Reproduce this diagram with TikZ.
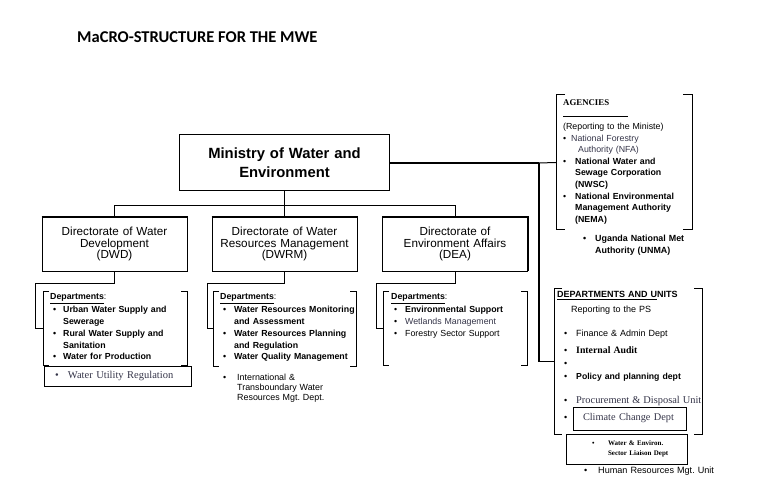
\documentclass[tikz,border=0pt]{standalone}
\usepackage{fontspec}
\setmainfont{Liberation Sans}
\newfontfamily\cambriafont{Liberation Serif}
\newfontfamily\calibrifont{Carlito}
\usetikzlibrary{positioning}
\definecolor{slate}{RGB}{52,52,72}
\frenchspacing
\newcommand{\fsz}[2]{\fontsize{#1}{#2}\selectfont}
\newcommand{\bt}[2]{\hspace*{#1}\makebox[#2][l]{\textbullet}}
\newcommand{\bracketframe}[2]{%
  \draw[line width=1pt] ([xshift=#2]#1.north west) -- (#1.north west) -- (#1.south west) -- ([xshift=#2]#1.south west);
  \draw[line width=1pt] ([xshift=-#2]#1.north east) -- (#1.north east) -- (#1.south east) -- ([xshift=-#2]#1.south east);}

\begin{document}
\begin{tikzpicture}[x=1pt,y=-1pt]
    \tikzstyle{dirbox} = [rectangle, draw, line width=0.8pt, minimum width=145pt, minimum height=54pt, inner sep=0pt, text width=143pt, align=center, font=\fsz{11.7}{11.7}]
    \tikzstyle{deptframe} = [rectangle, anchor=north west, inner sep=0pt, outer sep=0pt]
    \tikzstyle{textbox} = [deptframe, draw, line width=0.8pt, align=left]
    \tikzstyle{listtext} = [anchor=base west, inner sep=0pt, text width=150pt, align=left]
    \tikzstyle{link} = [line width=1pt]
    \useasboundingbox (0,0) rectangle (768,502);

    \node [anchor=base west, inner sep=0pt, font=\calibrifont\bfseries\fsz{16.5}{18}] (title) at (77,43) {MaCRO-STRUCTURE FOR THE MWE};
    \node [rectangle, draw, line width=1pt, minimum width=210pt, minimum height=56pt, inner sep=0pt, text width=208pt, align=center, font=\bfseries\fsz{14.8}{19}] (mwe) at (284.5,163) {Ministry of Water and\\Environment};

    \node [dirbox] (dwd) at (114.5,244) {Directorate of Water\\Development\\(DWD)};
    \node [dirbox] (dwrm) at (284.5,244) {Directorate of Water\\Resources Management\\(DWRM)};
    \node [dirbox] (dea) at (455,244) {Directorate of\\Environment Affairs\\(DEA)};
    \foreach \d in {dwd,dwrm,dea}
      \draw[line width=1.8pt] (\d.north west) -- (\d.north east) -- (\d.south east);

    \draw[link] (mwe.south) -- (dwrm.north);
    \draw[link] (mwe.south) -- ++(0,14) -| (dwd.north);
    \draw[link] (mwe.south) -- ++(0,14) -| (dea.north);

    \node [deptframe, minimum width=144pt, minimum height=73pt] (dwddept) at (43,292) {};
    \node [deptframe, minimum width=143pt, minimum height=74pt] (dwrmdept) at (213,292) {};
    \node [deptframe, minimum width=144pt, minimum height=73pt] (deadept) at (383,292) {};
    \foreach \d in {dwddept,dwrmdept,deadept} {\bracketframe{\d}{6pt}}

    \draw[link] (dwd.south) -- ++(0,12) -| ([xshift=-8pt]dwddept.west) -- (dwddept.west);
    \draw[link] (dwrm.south) -- ++(0,12) -| ([xshift=-6pt]dwrmdept.west) -- (dwrmdept.west);
    \draw[link] (dea.south) -- ++(0,12) -| ([xshift=-7pt]deadept.west) -- (deadept.west);

    \node [listtext, font=\bfseries\fsz{8.8}{11.7}] (dwdtext) at (50,300) {\underline{Departments}{\mdseries:}\\[1.3pt]
      \bt{3pt}{10pt}Urban Water Supply and\\
      \hspace*{13pt}Sewerage\\
      \bt{3pt}{10pt}Rural Water Supply and\\
      \hspace*{13pt}Sanitation\\
      \bt{3pt}{10pt}Water for Production};
    \node [textbox, text width=147pt, minimum height=20pt, font=\cambriafont\fsz{10.5}{12}, text=slate] (wur) at (44,366) {\bt{11pt}{13pt}Water Utility Regulation};

    \node [listtext, font=\bfseries\fsz{8.8}{11.7}] (dwrmtext) at (220,300) {\underline{Departments}{\mdseries:}\\[1.3pt]
      \bt{3pt}{11pt}Water Resources Monitoring\\
      \hspace*{14pt}and Assessment\\
      \bt{3pt}{11pt}Water Resources Planning\\
      \hspace*{14pt}and Regulation\\
      \bt{3pt}{11pt}Water Quality Management};
    \node [listtext, font=\fsz{8.9}{9.9}] (intl) at (223,380.5) {\bt{0pt}{14pt}International \&\\
      \hspace*{14pt}Transboundary Water\\
      \hspace*{14pt}Resources Mgt. Dept.};

    \node [listtext, font=\fsz{8.8}{11.7}] (deatext) at (391,300) {\underline{\textbf{Departments}}:\\[1.3pt]
      \bt{3pt}{11pt}\textbf{Environmental Support}\\
      \bt{3pt}{11pt}{\color{slate}Wetlands Management}\\
      \bt{3pt}{11pt}Forestry Sector Support};

    \node [deptframe, minimum width=136pt, minimum height=135pt] (agency) at (556,95) {};
    \bracketframe{agency}{9pt}
    \node [listtext, font=\fsz{8.8}{11.6}] (agtext) at (563,105.5) {{\cambriafont\bfseries AGENCIES}\\[-0.3pt]
      \rule{65pt}{0.6pt}\\[1.1pt]
      (Reporting to the Ministe)\\
      \bt{0pt}{8pt}{\color{slate}National Forestry}\\
      \hspace*{15pt}{\color{slate}Authority (NFA)}\\
      \bt{0pt}{12pt}\textbf{National Water and}\\
      \hspace*{12pt}\textbf{Sewage Corporation}\\
      \hspace*{12pt}\textbf{(NWSC)}\\
      \bt{0pt}{12pt}\textbf{National Environmental}\\
      \hspace*{12pt}\textbf{Management Authority}\\
      \hspace*{12pt}\textbf{(NEMA)}};
    \node [listtext, font=\bfseries\fsz{8.9}{12}] (unma) at (583,242) {\bt{0pt}{12pt}\makebox[106pt][s]{Uganda National Met}\\
      \hspace*{12pt}Authority (UNMA)};

    \node [deptframe, minimum width=148pt, minimum height=145pt] (units) at (554,289) {};
    \bracketframe{units}{8pt}
    \node [listtext, font=\fsz{9}{12}] (unittext) at (557,298) {\textbf{\underline{DEPARTMENTS AND U}NITS}\\[3pt]
      \hspace*{14pt}Reporting to the PS\\[12pt]
      \bt{7pt}{12pt}Finance \& Admin Dept\\[5pt]
      \bt{7pt}{12pt}{\cambriafont\bfseries\fsz{9.8}{12}Internal Audit}\\[1pt]
      \bt{7pt}{12pt}\\[1pt]
      \bt{7pt}{12pt}{\bfseries\fsz{8.7}{12}Policy and planning dept}\\[12pt]
      \bt{7pt}{12pt}{\cambriafont\color{slate}\fsz{10.4}{12}Procurement \& Disposal Unit}\\[5pt]
      \bt{7pt}{12pt}};
    \node [textbox, text width=113pt, minimum height=23pt, font=\cambriafont\fsz{10.3}{12}, text=slate] (climate) at (573,407) {\hspace*{10pt}Climate Change Dept};
    \node [textbox, text width=121pt, minimum height=30pt, font=\cambriafont\bfseries\fsz{7}{10}] (liaison) at (566,434) {\bt{26pt}{16pt}Water \& Environ.\\
      \hspace*{42pt}Sector Liaison Dept};
    \node [listtext, font=\fsz{9.1}{12}] (hr) at (584,473) {\bt{0pt}{14pt}Human Resources Mgt. Unit};

    \coordinate (junc) at (539,163);
    \draw[line width=1.8pt] (mwe.east) -- (junc);
    \draw[link] (junc) -- (agency.west);
    \draw[line width=1.3pt] (junc) |- (units.west);
\end{tikzpicture}
\end{document}
